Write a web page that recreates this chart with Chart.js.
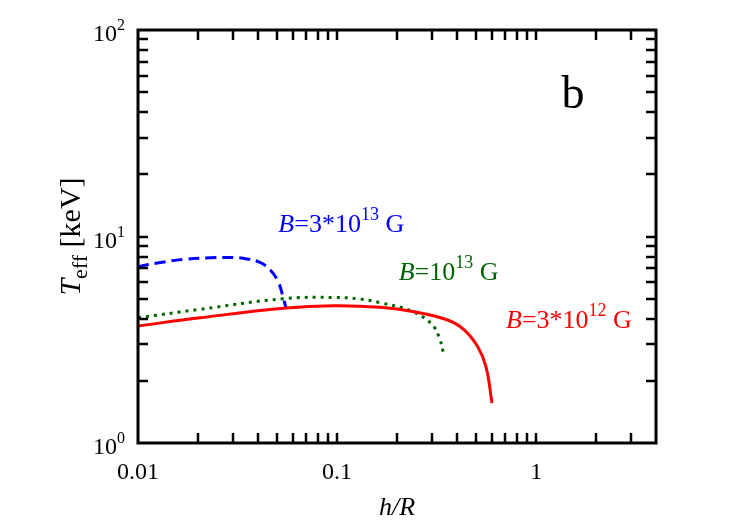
<!DOCTYPE html>
<html>
<head>
<meta charset="utf-8">
<script src="https://cdn.jsdelivr.net/npm/chart.js@4/dist/chart.umd.min.js"></script>
<style>
  html, body { margin: 0; padding: 0; background: #fff; }
  #wrap { width: 747px; height: 523px; }
</style>
</head>
<body>
<div id="wrap"><canvas id="c" width="747" height="523"></canvas></div>
<script>
// h/R (x) and T_eff in keV (y)
const blueX = [0.01, 0.0125, 0.0169, 0.0231, 0.028, 0.0338, 0.041, 0.0462, 0.0506, 0.0535, 0.0554];
const blueY = [7.14, 7.44, 7.75, 7.89, 7.92, 7.84, 7.5, 6.88, 6.04, 5.11, 4.5];

const greenX = [0.01, 0.0205, 0.0537, 0.096, 0.13, 0.165, 0.234, 0.296, 0.325, 0.341];
const greenY = [4.04, 4.44, 5.0, 5.07, 4.98, 4.78, 4.37, 3.8, 3.27, 2.77];

const redX = [0.01, 0.0205, 0.0537, 0.096, 0.165, 0.244, 0.359, 0.435, 0.508, 0.56, 0.6];
const redY = [3.69, 4.04, 4.49, 4.62, 4.54, 4.32, 3.94, 3.53, 2.93, 2.34, 1.56];

const xTickVals = [0.01, 0.1, 1];
const xTickText = ['0.01', '0.1', '1'];
const yTickVals = [1, 10, 100];
const yTickExp = ['0', '1', '2'];

const SERIF = '"Liberation Serif", "Times New Roman", serif';

function pts(xs, ys) { return xs.map((x, i) => ({ x: x, y: ys[i] })); }

// draw text made of pieces: [text, font, dy]
function rich(ctx, parts, x, y, align) {
  let w = 0;
  parts.forEach(p => { ctx.font = p[1]; w += ctx.measureText(p[0]).width; });
  let cx = align === 'center' ? x - w / 2 : align === 'right' ? x - w : x;
  parts.forEach(p => {
    ctx.font = p[1];
    ctx.fillText(p[0], cx, y + (p[2] || 0));
    cx += ctx.measureText(p[0]).width;
  });
}

const frame = {
  id: 'frame',
  afterDraw(chart) {
    const ctx = chart.ctx, a = chart.chartArea;
    const xs = chart.scales.x, ys = chart.scales.y;
    ctx.save();
    ctx.strokeStyle = '#000';
    ctx.fillStyle = '#000';
    ctx.lineWidth = 2.5;
    // inward ticks on all four sides
    const tl = 10;
    ctx.beginPath();
    for (let e = -2; e <= 0; e++) {
      for (let m = 1; m <= 9; m++) {
        const v = m * Math.pow(10, e);
        if (v < xs.min || v > xs.max) continue;
        const px = Math.round(xs.getPixelForValue(v));
        if (px <= a.left + 1 || px >= a.right - 1) continue;
        ctx.moveTo(px, a.bottom); ctx.lineTo(px, a.bottom - tl);
        ctx.moveTo(px, a.top); ctx.lineTo(px, a.top + tl);
      }
    }
    for (let e = 0; e <= 1; e++) {
      for (let m = 1; m <= 9; m++) {
        const v = m * Math.pow(10, e);
        const py = Math.round(ys.getPixelForValue(v));
        if (py <= a.top + 1 || py >= a.bottom - 1) continue;
        ctx.moveTo(a.left, py); ctx.lineTo(a.left + tl, py);
        ctx.moveTo(a.right, py); ctx.lineTo(a.right - tl, py);
      }
    }
    ctx.stroke();
    ctx.lineWidth = 3;
    ctx.strokeRect(a.left, a.top, a.right - a.left, a.bottom - a.top);

    // tick labels
    ctx.textBaseline = 'alphabetic';
    ctx.textAlign = 'left';
    xTickVals.forEach((v, i) => {
      rich(ctx, [[xTickText[i], '24px ' + SERIF]], xs.getPixelForValue(v), a.bottom + 36, 'center');
    });
    yTickVals.forEach((v, i) => {
      rich(ctx, [['10', '24px ' + SERIF], [yTickExp[i], '16px ' + SERIF, -11]],
        a.left - 13, ys.getPixelForValue(v) + 11, 'right');
    });

    // axis titles
    rich(ctx, [['h/R', 'italic 26px ' + SERIF]], (a.left + a.right) / 2, a.bottom + 72, 'center');
    ctx.save();
    ctx.translate(a.left - 68, (a.top + a.bottom) / 2);
    ctx.rotate(-Math.PI / 2);
    rich(ctx, [['T', 'italic 30px ' + SERIF], ['eff', '22px ' + SERIF, 7], [' [keV]', '30px ' + SERIF]], 0, 10, 'center');
    ctx.restore();

    // curve labels
    const notes = [
      { x: 0.0507, y: 10.5, color: '#0000ff', exp: '13', pre: '3*10' },
      { x: 0.204, y: 6.16, color: '#006400', exp: '13', pre: '10' },
      { x: 0.706, y: 3.61, color: '#ff0000', exp: '12', pre: '3*10' }
    ];
    notes.forEach(n => {
      ctx.fillStyle = n.color;
      rich(ctx, [['B', 'italic 26px ' + SERIF], ['=' + n.pre, '26px ' + SERIF],
        [n.exp, '18px ' + SERIF, -12], [' G', '26px ' + SERIF]],
        xs.getPixelForValue(n.x), ys.getPixelForValue(n.y), 'left');
    });
    ctx.fillStyle = '#000';
    rich(ctx, [['b', '46px ' + SERIF]], xs.getPixelForValue(1.53), ys.getPixelForValue(42), 'center');
    ctx.restore();
  }
};

new Chart(document.getElementById('c'), {
  type: 'line',
  data: {
    datasets: [
      {
        label: 'B=3*10^12 G',
        data: pts(redX, redY),
        borderColor: '#ff0000',
        borderWidth: 3,
        pointRadius: 0,
        fill: false,
        tension: 0.4
      },
      {
        label: 'B=10^13 G',
        data: pts(greenX, greenY),
        borderColor: '#006400',
        borderWidth: 3,
        borderDash: [3, 5],
        pointRadius: 0,
        fill: false,
        tension: 0.4
      },
      {
        label: 'B=3*10^13 G',
        data: pts(blueX, blueY),
        borderColor: '#0000ff',
        borderWidth: 3,
        borderDash: [11, 6],
        pointRadius: 0,
        fill: false,
        tension: 0.4
      }
    ]
  },
  options: {
    responsive: false,
    animation: false,
    layout: { padding: { left: 138, right: 91, top: 30, bottom: 80 } },
    plugins: { legend: { display: false }, tooltip: { enabled: false } },
    scales: {
      x: { type: 'logarithmic', min: 0.01, max: 4, display: false },
      y: { type: 'logarithmic', min: 1, max: 100, display: false }
    }
  },
  plugins: [frame]
});
</script>
</body>
</html>
